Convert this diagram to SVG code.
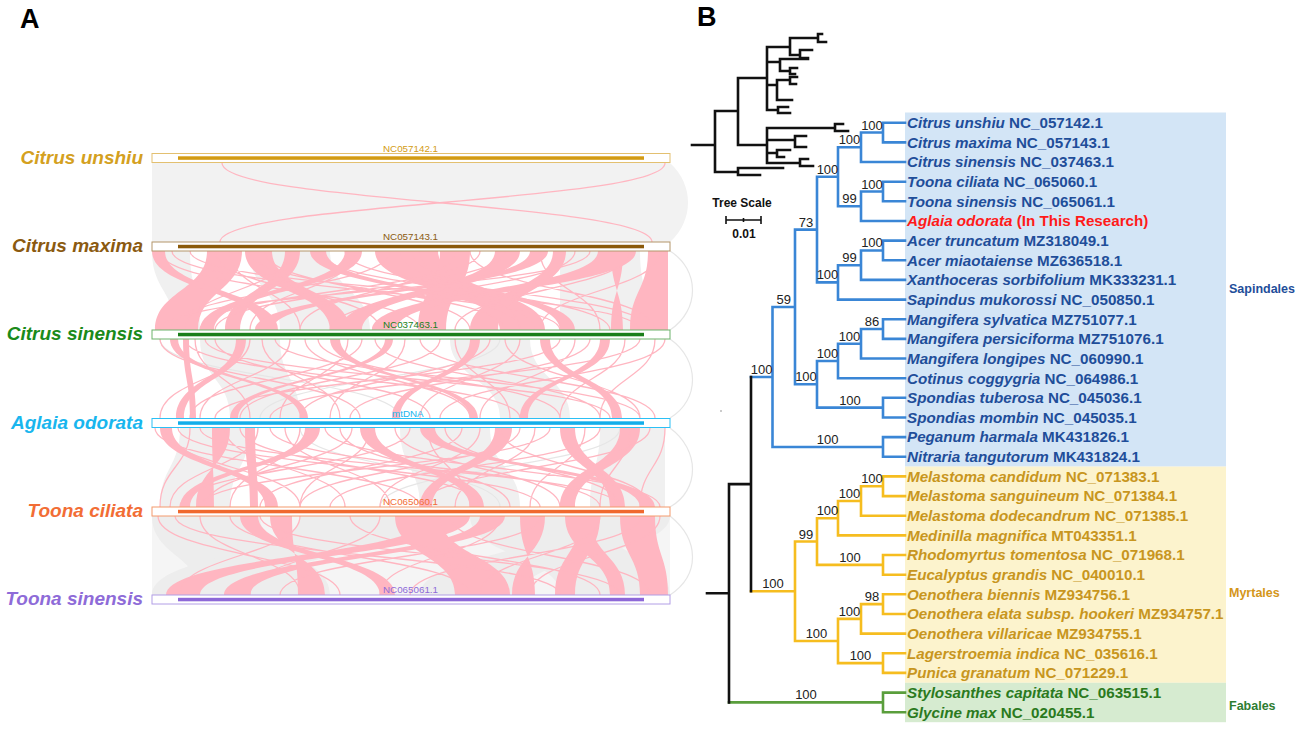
<svg xmlns="http://www.w3.org/2000/svg" width="1299" height="730" viewBox="0 0 1299 730">
<defs>
<style>
.f{font-family:"Liberation Sans",Arial,sans-serif}
.pk{fill:#FFB6C1}
.pl{fill:none;stroke:#FFB6C1;stroke-width:1.3}
.gy{fill:#F0F0F0}
.gl{fill:none;stroke:#E6E6E6;stroke-width:1.2}
.nm{font-family:"Liberation Sans",Arial,sans-serif;font-weight:bold;font-style:italic;font-size:19px;text-anchor:end}
.ch{font-family:"Liberation Sans",Arial,sans-serif;font-size:9.8px}
.box{fill:#fff;stroke-width:1}
.tip{font-family:"Liberation Sans",Arial,sans-serif;font-weight:bold;font-size:15.2px}
.it{font-style:italic}
.bs{font-family:"Liberation Sans",Arial,sans-serif;font-size:13px;fill:#222;text-anchor:middle}
.br{fill:none;stroke-width:2.6;stroke-linecap:square}
.sap{fill:#1F4E9A}
.myr{fill:#C8961E}
.fab{fill:#2B7A1E}
.cl{font-family:"Liberation Sans",Arial,sans-serif;font-weight:bold;font-size:12.5px}
</style>
</defs>
<rect width="1299" height="730" fill="#fff"/>

<!-- Panel letters -->
<text class="f" x="20" y="28" font-size="27" font-weight="bold" fill="#000">A</text>
<text class="f" x="697" y="26" font-size="27" font-weight="bold" fill="#000">B</text>

<!-- ===== Panel A connectors (synteny ribbons) ===== -->
<g id="synteny-links">
  <!-- gap 1 -->
  <path fill="#F2F2F2" d="M152 163L670 163C694 185 694 220 670 242L152 242Z"/>
  <path class="pl" d="M222 163C222 202.5 652 202.5 652 242M665 163C665 202.5 220 202.5 220 242"/>
  <!-- gray background ribbons -->
  <g class="gy">
    <path d="M250 251C250 290.5 280 290.5 280 330L370 330C370 290.5 330 290.5 330 251Z"/>
    <path d="M560 251C560 290.5 560 290.5 560 330L650 330C650 290.5 640 290.5 640 251Z"/>
    <path d="M152 251C152 290.5 175 290.5 175 330L200 330C200 290.5 190 290.5 190 251Z"/>
    <path d="M200 339C200 378.5 230 378.5 230 418L300 418C300 378.5 280 378.5 280 339Z"/>
    <path d="M450 339C450 378.5 500 378.5 500 418L570 418C570 378.5 530 378.5 530 339Z"/>
    <path d="M180 428C180 467.5 160 467.5 160 507L230 507C230 467.5 250 467.5 250 428Z"/>
    <path d="M400 428C400 467.5 420 467.5 420 507L520 507C520 467.5 490 467.5 490 428Z"/>
    <path d="M600 428C600 467.5 590 467.5 590 507L665 507C665 467.5 665 467.5 665 428Z"/>
    <path fill="#F5F5F5" d="M152 516L670 516L670 595L152 595Z"/>
    <path fill="#EDEDED" d="M152 516C152 555.5 200 555.5 200 595L330 595C330 555.5 260 555.5 260 516Z"/>
    <path fill="#EDEDED" d="M300 516C300 555.5 152 555.5 152 595L250 595C250 555.5 420 555.5 420 516Z"/>
    <path fill="#EDEDED" d="M470 516C470 555.5 560 555.5 560 595L670 595C670 555.5 600 555.5 600 516Z"/>
    <path fill="#EDEDED" d="M560 516C560 555.5 420 555.5 420 595L520 595C520 555.5 670 555.5 670 516Z"/>
  </g>
  <g class="gl">
    <path d="M670 251C700 270 700 310 670 330M670 339C700 360 700 400 670 418M670 428C700 450 700 490 670 507M670 516C700 540 700 575 670 595"/>
    <path d="M160 339C160 378.5 400 378.5 400 418M300 428C300 467.5 500 467.5 500 507M500 339C500 378.5 260 378.5 260 418M620 428C620 467.5 380 467.5 380 507"/>
  </g>
  <!-- gap 2 pink ribbons -->
  <g class="pk">
    <path d="M207 251C207 290.5 155 290.5 155 330L198 330C198 290.5 242 290.5 242 251Z"/>
    <path d="M245 251C245 290.5 330 290.5 330 330L350 330C350 290.5 272 290.5 272 251Z"/>
    <path d="M152 251C152 290.5 262 290.5 262 330L278 330C278 290.5 165 290.5 165 251Z"/>
    <path d="M285 251C285 290.5 225 290.5 225 330L240 330C240 290.5 300 290.5 300 251Z"/>
    <path d="M345 251C345 290.5 200 290.5 200 330L214 330C214 290.5 362 290.5 362 251Z"/>
    <path d="M375 251C375 290.5 500 290.5 500 330L545 330C545 290.5 438 290.5 438 251Z"/>
    <path d="M440 251C440 290.5 418 290.5 418 330L446 330C446 290.5 470 290.5 470 251Z"/>
    <path d="M495 251C495 290.5 340 290.5 340 330L362 330C362 290.5 520 290.5 520 251Z"/>
    <path d="M553 251C553 290.5 470 290.5 470 330L498 330C498 290.5 566 290.5 566 251Z"/>
    <path d="M611 251C611 290.5 623 290.5 623 330L611 330C611 290.5 623 290.5 623 251Z"/>
    <path d="M648 251C648 290.5 630 290.5 630 330L668 330C668 290.5 668 290.5 668 251Z"/>
    <path d="M310 251C310 290.5 520 290.5 520 330L535 330C535 290.5 326 290.5 326 251Z"/>
    <path d="M598 251C598 290.5 372 290.5 372 330L396 330C396 290.5 636 290.5 636 251Z"/>
    <path d="M530 251C530 290.5 255 290.5 255 330L272 330C272 290.5 548 290.5 548 251Z"/>
    <path d="M400 251C400 290.5 560 290.5 560 330L575 330C575 290.5 412 290.5 412 251Z"/>
  </g>
  <path class="pl" d="M160 251C160 290.5 420 290.5 420 330M172 251C172 290.5 560 290.5 560 330M190 251C190 290.5 640 290.5 640 330M230 251C230 290.5 300 290.5 300 330M265 251C265 290.5 470 290.5 470 330M290 251C290 290.5 185 290.5 185 330M320 251C320 290.5 610 290.5 610 330M355 251C355 290.5 250 290.5 250 330M390 251C390 290.5 170 290.5 170 330M420 251C420 290.5 520 290.5 520 330M455 251C455 290.5 300 290.5 300 330M470 251C470 290.5 655 290.5 655 330M505 251C505 290.5 215 290.5 215 330M540 251C540 290.5 600 290.5 600 330M575 251C575 290.5 330 290.5 330 330M590 251C590 290.5 160 290.5 160 330M630 251C630 290.5 455 290.5 455 330M660 251C660 290.5 540 290.5 540 330M215 251C215 290.5 380 290.5 380 330M480 251C480 290.5 200 290.5 200 330M250 251C250 290.5 505 290.5 505 330M345 251C345 290.5 650 290.5 650 330"/>
  <!-- gap 3 -->
  <g class="pk">
    <path d="M170 339C170 378.5 300 378.5 300 418L308 418C308 378.5 178 378.5 178 339Z"/>
    <path d="M236 339C236 378.5 176 378.5 176 418L184 418C184 378.5 246 378.5 246 339Z"/>
    <path d="M330 339C330 378.5 470 378.5 470 418L478 418C478 378.5 340 378.5 340 339Z"/>
    <path d="M470 339C470 378.5 392 378.5 392 418L400 418C400 378.5 480 378.5 480 339Z"/>
    <path d="M540 339C540 378.5 612 378.5 612 418L622 418C622 378.5 550 378.5 550 339Z"/>
    <path d="M600 339C600 378.5 520 378.5 520 418L528 418C528 378.5 610 378.5 610 339Z"/>
    <path d="M385 339C385 378.5 230 378.5 230 418L238 418C238 378.5 393 378.5 393 339Z"/>
    <path d="M183 339C183 378.5 190 378.5 190 418L196 418C196 378.5 189 378.5 189 339Z"/>
  </g>
  <path class="pl" d="M160 339C160 378.5 360 378.5 360 418M185 339C185 378.5 520 378.5 520 418M195 339C195 378.5 250 378.5 250 418M205 339C205 378.5 610 378.5 610 418M215 339C215 378.5 430 378.5 430 418M250 339C250 378.5 160 378.5 160 418M262 339C262 378.5 340 378.5 340 418M275 339C275 378.5 640 378.5 640 418M290 339C290 378.5 200 378.5 200 418M305 339C305 378.5 470 378.5 470 418M318 339C318 378.5 560 378.5 560 418M348 339C348 378.5 280 378.5 280 418M362 339C362 378.5 190 378.5 190 418M375 339C375 378.5 600 378.5 600 418M405 339C405 378.5 330 378.5 330 418M420 339C420 378.5 655 378.5 655 418M440 339C440 378.5 240 378.5 240 418M455 339C455 378.5 510 378.5 510 418M490 339C490 378.5 300 378.5 300 418M505 339C505 378.5 640 378.5 640 418M520 339C520 378.5 420 378.5 420 418M560 339C560 378.5 215 378.5 215 418M575 339C575 378.5 480 378.5 480 418M590 339C590 378.5 350 378.5 350 418M625 339C625 378.5 560 378.5 560 418M640 339C640 378.5 270 378.5 270 418M655 339C655 378.5 600 378.5 600 418M665 339C665 378.5 440 378.5 440 418"/>
  <!-- gap 4 -->
  <g class="pk">
    <path d="M212 428C212 467.5 214 467.5 214 507L196 507C196 467.5 230 467.5 230 428Z"/>
    <path d="M245 428C245 467.5 250 467.5 250 507L258 507C258 467.5 255 467.5 255 428Z"/>
    <path d="M160 428C160 467.5 265 467.5 265 507L278 507C278 467.5 172 467.5 172 428Z"/>
    <path d="M305 428C305 467.5 180 467.5 180 507L190 507C190 467.5 320 467.5 320 428Z"/>
    <path d="M495 428C495 467.5 420 467.5 420 507L432 507C432 467.5 512 467.5 512 428Z"/>
    <path d="M560 428C560 467.5 610 467.5 610 507L625 507C625 467.5 575 467.5 575 428Z"/>
    <path d="M620 428C620 467.5 560 467.5 560 507L575 507C575 467.5 640 467.5 640 428Z"/>
    <path d="M420 428C420 467.5 640 467.5 640 507L655 507C655 467.5 435 467.5 435 428Z"/>
    <path d="M360 428C360 467.5 470 467.5 470 507L484 507C484 467.5 375 467.5 375 428Z"/>
  </g>
  <path class="pl" d="M155 428C155 467.5 420 467.5 420 507M165 428C165 467.5 300 467.5 300 507M178 428C178 467.5 540 467.5 540 507M190 428C190 467.5 160 467.5 160 507M200 428C200 467.5 620 467.5 620 507M225 428C225 467.5 345 467.5 345 507M240 428C240 467.5 480 467.5 480 507M258 428C258 467.5 170 467.5 170 507M270 428C270 467.5 600 467.5 600 507M285 428C285 467.5 390 467.5 390 507M300 428C300 467.5 230 467.5 230 507M325 428C325 467.5 660 467.5 660 507M340 428C340 467.5 510 467.5 510 507M352 428C352 467.5 205 467.5 205 507M370 428C370 467.5 300 467.5 300 507M395 428C395 467.5 560 467.5 560 507M410 428C410 467.5 180 467.5 180 507M428 428C428 467.5 470 467.5 470 507M445 428C445 467.5 620 467.5 620 507M462 428C462 467.5 260 467.5 260 507M480 428C480 467.5 380 467.5 380 507M500 428C500 467.5 650 467.5 650 507M520 428C520 467.5 300 467.5 300 507M535 428C535 467.5 455 467.5 455 507M550 428C550 467.5 200 467.5 200 507M585 428C585 467.5 530 467.5 530 507M600 428C600 467.5 330 467.5 330 507M630 428C630 467.5 600 467.5 600 507M650 428C650 467.5 420 467.5 420 507M665 428C665 467.5 640 467.5 640 507"/>
  <!-- gap 5 -->
  <g class="pk">
    <path d="M430 516C430 555.5 166 555.5 166 595L200 595C200 555.5 470 555.5 470 516Z"/>
    <path d="M480 516C480 555.5 224 555.5 224 595L250 595C250 555.5 505 555.5 505 516Z"/>
    <path d="M270 516C270 555.5 325 555.5 325 595L298 595C298 555.5 292 555.5 292 516Z"/>
    <path d="M395 516C395 555.5 455 555.5 455 595L510 595C510 555.5 440 555.5 440 516Z"/>
    <path d="M520 516C520 555.5 535 555.5 535 595L512 595C512 555.5 545 555.5 545 516Z"/>
    <path d="M580 516C580 555.5 555 555.5 555 595L575 595C575 555.5 600 555.5 600 516Z"/>
    <path d="M620 516C620 555.5 640 555.5 640 595L668 595C668 555.5 655 555.5 655 516Z"/>
    <path d="M240 516C240 555.5 380 555.5 380 595L395 595C395 555.5 258 555.5 258 516Z"/>
    <path d="M565 516C565 555.5 610 555.5 610 595L625 595C625 555.5 590 555.5 590 516Z"/>
  </g>
  <path class="pl" d="M158 516C158 555.5 340 555.5 340 595M175 516C175 555.5 560 555.5 560 595M200 516C200 555.5 300 555.5 300 595M230 516C230 555.5 470 555.5 470 595M260 516C260 555.5 620 555.5 620 595M300 516C300 555.5 180 555.5 180 595M350 516C350 555.5 600 555.5 600 595M380 516C380 555.5 250 555.5 250 595M450 516C450 555.5 650 555.5 650 595M500 516C500 555.5 380 555.5 380 595M540 516C540 555.5 280 555.5 280 595M600 516C600 555.5 480 555.5 480 595M640 516C640 555.5 410 555.5 410 595M660 516C660 555.5 530 555.5 530 595"/>
</g>

<!-- ===== Panel A chromosome nodes ===== -->
<g id="chr-citrus-unshiu">
  <rect class="box" x="152" y="153.5" width="518" height="9" stroke="#E3C070"/>
  <rect x="178" y="156.3" width="466" height="3.5" fill="#D39B12"/>
  <text class="ch" x="383" y="151.5" fill="#D39B12">NC057142.1</text>
  <text class="nm" x="143" y="163.5" fill="#D4A020">Citrus unshiu</text>
</g>
<g id="chr-citrus-maxima">
  <rect class="box" x="152" y="242" width="518" height="9" stroke="#B3966A"/>
  <rect x="178" y="244.8" width="466" height="3.5" fill="#8B5A0A"/>
  <text class="ch" x="383" y="240" fill="#8B5A10">NC057143.1</text>
  <text class="nm" x="143" y="252" fill="#8B5A10">Citrus maxima</text>
</g>
<g id="chr-citrus-sinensis">
  <rect class="box" x="152" y="330" width="518" height="9" stroke="#6DB36D"/>
  <rect x="178" y="332.8" width="466" height="3.5" fill="#1A7F1A"/>
  <text class="ch" x="383" y="328" fill="#1A7F1A">NC037463.1</text>
  <text class="nm" x="143" y="340" fill="#1A8A1A">Citrus sinensis</text>
</g>
<g id="chr-aglaia-odorata">
  <rect class="box" x="152" y="418.5" width="518" height="9" stroke="#2BC0F5"/>
  <rect x="178" y="421.3" width="466" height="3.5" fill="#12AEEA"/>
  <text class="ch" x="392" y="416.5" fill="#19B6EE">mtDNA</text>
  <text class="nm" x="143" y="428.5" fill="#19B6EE">Aglaia odorata</text>
</g>
<g id="chr-toona-ciliata">
  <rect class="box" x="152" y="507" width="518" height="9" stroke="#F49A6C"/>
  <rect x="178" y="509.8" width="466" height="3.5" fill="#F0692E"/>
  <text class="ch" x="383" y="505" fill="#F26D35">NC065060.1</text>
  <text class="nm" x="143" y="517" fill="#F26D35">Toona ciliata</text>
</g>
<g id="chr-toona-sinensis">
  <rect class="box" x="152" y="595" width="518" height="9" stroke="#B29EE6"/>
  <rect x="178" y="597.8" width="466" height="3.5" fill="#8D68D8"/>
  <text class="ch" x="383" y="593" fill="#8E6BD8">NC065061.1</text>
  <text class="nm" x="143" y="605" fill="#8E6BD8">Toona sinensis</text>
</g>

<!-- ===== Panel B backgrounds ===== -->
<g id="clade-backgrounds">
  <rect x="905" y="112.5" width="321" height="354.1" fill="#D3E5F6"/>
  <rect x="905" y="466.6" width="321" height="216.2" fill="#FCF3CD"/>
  <rect x="905" y="682.8" width="321" height="39.4" fill="#D6EBD0"/>
</g>

<!-- ===== Panel B tree branches (connectors) ===== -->
<g id="tree-branches">
  <!-- small black tree -->
  <path class="br" stroke="#111" stroke-width="1.4" d="M692 145H715M715 111V172M715 111H738M738 78V145M738 78H767M767 47V110M767 47H790M790 38V55M790 38H818M818 34V42M818 34H822M818 42H826M790 55H800M800 50V58M800 50H812M800 58H808M767 62H780M780 59V71M780 59H808M780 71H790M790 68V74M790 68H797M790 74H795M767 85H777M777 80V100M777 80H790M790 77V84M790 77H797M790 84H796M777 100H792M767 110H778M778 107V113M778 107H788M778 113H790M738 145H767M767 128V163M767 128H835M835 124V131M835 124H843M835 131H848M767 140H795M795 136V147M795 136H806M795 147H806M767 153H777M777 150V157M777 150H790M777 157H784M767 163H800M800 159V166M800 159H808M800 166H813M715 172H738M738 168V175M738 168H783M738 175H760"/>
  <!-- Sapindales (blue) -->
  <path class="br" stroke="#3A86D6" d="M883 122.7H905M883 142.4H905M883 181.7H905M883 201.3H905M883 240.6H905M883 260.3H905M883 319.2H905M883 338.9H905M883 397.8H905M883 417.5H905M883 437.1H905M883 456.8H905M861 162H905M861 221H905M861 279.9H905M861 358.5H905M838 299.6H905M838 378.2H905M883 122.7V142.4M861 132.55H883M861 132.55V162M838 147.3H861M883 181.7V201.3M861 191.5H883M861 191.5V221M838 206.25H861M838 147.3V206.25M817 176.8H838M883 240.6V260.3M861 250.45H883M861 250.45V279.9M838 265.2H861M838 265.2V299.6M817 282.4H838M817 176.8V282.4M795 229.6H817M883 319.2V338.9M861 329.05H883M861 329.05V358.5M838 343.8H861M838 343.8V378.2M817 361H838M883 397.8V417.5M817 407.65H883M817 361V407.65M795 384.3H817M795 229.6V384.3M772.5 306.95H795M883 437.1V456.8M772.5 446.95H883M772.5 306.95V446.95M751 376.95H772.5"/>
  <!-- Myrtales (yellow) -->
  <path class="br" stroke="#F6BD1F" d="M883 476.4H905M883 496.1H905M883 555H905M883 574.7H905M883 594.3H905M883 614H905M883 653.3H905M883 672.9H905M861 515.7H905M861 633.6H905M838 535.4H905M883 476.4V496.1M861 486.25H883M861 486.25V515.7M838 501H861M838 501V535.4M817 518.2H838M883 555V574.7M817 564.85H883M817 518.2V564.85M795 541.5H817M883 594.3V614M861 604.15H883M861 604.15V633.6M838 618.9H861M883 653.3V672.9M838 663.1H883M838 618.9V663.1M795 641H838M795 541.5V641M751 591.25H795"/>
  <!-- Fabales (green) -->
  <path class="br" stroke="#5A9E3C" d="M729 702.4H883M883 692.6V712.2M883 692.6H905M883 712.2H905"/>
  <!-- root (black) -->
  <path class="br" stroke="#111" stroke-width="2.8" d="M751 376.95V591.25M729 484.1H751M729 484.1V702.4M707 593.25H729"/>
  <circle cx="721" cy="411" r="0.8" fill="#888"/>
</g>

<!-- scale -->
<g id="tree-scale">
  <text class="f" x="742" y="207" font-size="12" font-weight="bold" text-anchor="middle" fill="#111">Tree Scale</text>
  <path d="M726 220H761M726 216V224M761 216V224M743.5 218V222" stroke="#111" stroke-width="1.6" fill="none"/>
  <text class="f" x="744" y="238" font-size="12" font-weight="bold" text-anchor="middle" fill="#111">0.01</text>
</g>

<!-- support values -->
<g id="support-values" class="bs">
  <text x="872" y="129.5">100</text>
  <text x="849.5" y="144.3">100</text>
  <text x="872" y="188.5">100</text>
  <text x="849.5" y="203.2">99</text>
  <text x="827.5" y="173.8">100</text>
  <text x="872" y="247.4">100</text>
  <text x="849.5" y="262.2">99</text>
  <text x="827.5" y="279.4">100</text>
  <text x="806" y="226.6">73</text>
  <text x="872" y="326">86</text>
  <text x="849.5" y="340.8">100</text>
  <text x="827.5" y="358">100</text>
  <text x="850" y="404.6">100</text>
  <text x="806" y="381.3">100</text>
  <text x="783.7" y="303.9">59</text>
  <text x="827.7" y="443.9">100</text>
  <text x="761.7" y="373.9">100</text>
  <text x="872" y="483.2">100</text>
  <text x="849.5" y="498">100</text>
  <text x="827.5" y="515.2">100</text>
  <text x="850" y="561.8">100</text>
  <text x="806" y="538.5">99</text>
  <text x="872" y="601.1">98</text>
  <text x="849.5" y="615.9">100</text>
  <text x="860.5" y="660.1">100</text>
  <text x="816.5" y="638">100</text>
  <text x="773" y="588.2">100</text>
  <text x="806" y="699.4">100</text>
</g>

<!-- leaf labels -->
<g id="taxon-citrus-unshiu" class="tip sap"><text x="907" y="128"><tspan class="it">Citrus unshiu</tspan> NC_057142.1</text></g>
<g id="taxon-citrus-maxima" class="tip sap"><text x="907" y="147.7"><tspan class="it">Citrus maxima</tspan> NC_057143.1</text></g>
<g id="taxon-citrus-sinensis" class="tip sap"><text x="907" y="167.3"><tspan class="it">Citrus sinensis</tspan> NC_037463.1</text></g>
<g id="taxon-toona-ciliata" class="tip sap"><text x="907" y="187"><tspan class="it">Toona ciliata</tspan> NC_065060.1</text></g>
<g id="taxon-toona-sinensis" class="tip sap"><text x="907" y="206.6"><tspan class="it">Toona sinensis</tspan> NC_065061.1</text></g>
<g id="taxon-aglaia-odorata" class="tip" fill="#FF1A1A"><text x="907" y="226.3"><tspan class="it">Aglaia odorata</tspan> (In This Research)</text></g>
<g id="taxon-acer-truncatum" class="tip sap"><text x="907" y="245.9"><tspan class="it">Acer truncatum</tspan> MZ318049.1</text></g>
<g id="taxon-acer-miaotaiense" class="tip sap"><text x="907" y="265.6"><tspan class="it">Acer miaotaiense</tspan> MZ636518.1</text></g>
<g id="taxon-xanthoceras" class="tip sap"><text x="907" y="285.2"><tspan class="it">Xanthoceras sorbifolium</tspan> MK333231.1</text></g>
<g id="taxon-sapindus" class="tip sap"><text x="907" y="304.9"><tspan class="it">Sapindus mukorossi</tspan> NC_050850.1</text></g>
<g id="taxon-mangifera-sylvatica" class="tip sap"><text x="907" y="324.5"><tspan class="it">Mangifera sylvatica</tspan> MZ751077.1</text></g>
<g id="taxon-mangifera-persiciforma" class="tip sap"><text x="907" y="344.2"><tspan class="it">Mangifera persiciforma</tspan> MZ751076.1</text></g>
<g id="taxon-mangifera-longipes" class="tip sap"><text x="907" y="363.8"><tspan class="it">Mangifera longipes</tspan> NC_060990.1</text></g>
<g id="taxon-cotinus" class="tip sap"><text x="907" y="383.5"><tspan class="it">Cotinus coggygria</tspan> NC_064986.1</text></g>
<g id="taxon-spondias-tuberosa" class="tip sap"><text x="907" y="403.1"><tspan class="it">Spondias tuberosa</tspan> NC_045036.1</text></g>
<g id="taxon-spondias-mombin" class="tip sap"><text x="907" y="422.8"><tspan class="it">Spondias mombin</tspan> NC_045035.1</text></g>
<g id="taxon-peganum" class="tip sap"><text x="907" y="442.4"><tspan class="it">Peganum harmala</tspan> MK431826.1</text></g>
<g id="taxon-nitraria" class="tip sap"><text x="907" y="462.1"><tspan class="it">Nitraria tangutorum</tspan> MK431824.1</text></g>
<g id="taxon-melastoma-candidum" class="tip myr"><text x="907" y="481.7"><tspan class="it">Melastoma candidum</tspan> NC_071383.1</text></g>
<g id="taxon-melastoma-sanguineum" class="tip myr"><text x="907" y="501.4"><tspan class="it">Melastoma sanguineum</tspan> NC_071384.1</text></g>
<g id="taxon-melastoma-dodecandrum" class="tip myr"><text x="907" y="521"><tspan class="it">Melastoma dodecandrum</tspan> NC_071385.1</text></g>
<g id="taxon-medinilla" class="tip myr"><text x="907" y="540.7"><tspan class="it">Medinilla magnifica</tspan> MT043351.1</text></g>
<g id="taxon-rhodomyrtus" class="tip myr"><text x="907" y="560.3"><tspan class="it">Rhodomyrtus tomentosa</tspan> NC_071968.1</text></g>
<g id="taxon-eucalyptus" class="tip myr"><text x="907" y="580"><tspan class="it">Eucalyptus grandis</tspan> NC_040010.1</text></g>
<g id="taxon-oenothera-biennis" class="tip myr"><text x="907" y="599.6"><tspan class="it">Oenothera biennis</tspan> MZ934756.1</text></g>
<g id="taxon-oenothera-elata" class="tip myr"><text x="907" y="619.3"><tspan class="it">Oenothera elata subsp. hookeri</tspan> MZ934757.1</text></g>
<g id="taxon-oenothera-villaricae" class="tip myr"><text x="907" y="638.9"><tspan class="it">Oenothera villaricae</tspan> MZ934755.1</text></g>
<g id="taxon-lagerstroemia" class="tip myr"><text x="907" y="658.6"><tspan class="it">Lagerstroemia indica</tspan> NC_035616.1</text></g>
<g id="taxon-punica" class="tip myr"><text x="907" y="678.2"><tspan class="it">Punica granatum</tspan> NC_071229.1</text></g>
<g id="taxon-stylosanthes" class="tip fab"><text x="907" y="697.9"><tspan class="it">Stylosanthes capitata</tspan> NC_063515.1</text></g>
<g id="taxon-glycine" class="tip fab"><text x="907" y="717.5"><tspan class="it">Glycine max</tspan> NC_020455.1</text></g>

<!-- clade labels -->
<g id="clade-sapindales"><text class="cl" x="1229" y="292.5" fill="#1F4E9A">Sapindales</text></g>
<g id="clade-myrtales"><text class="cl" x="1229" y="596.5" fill="#D4961A">Myrtales</text></g>
<g id="clade-fabales"><text class="cl" x="1229" y="709.5" fill="#2E7D32">Fabales</text></g>
</svg>
